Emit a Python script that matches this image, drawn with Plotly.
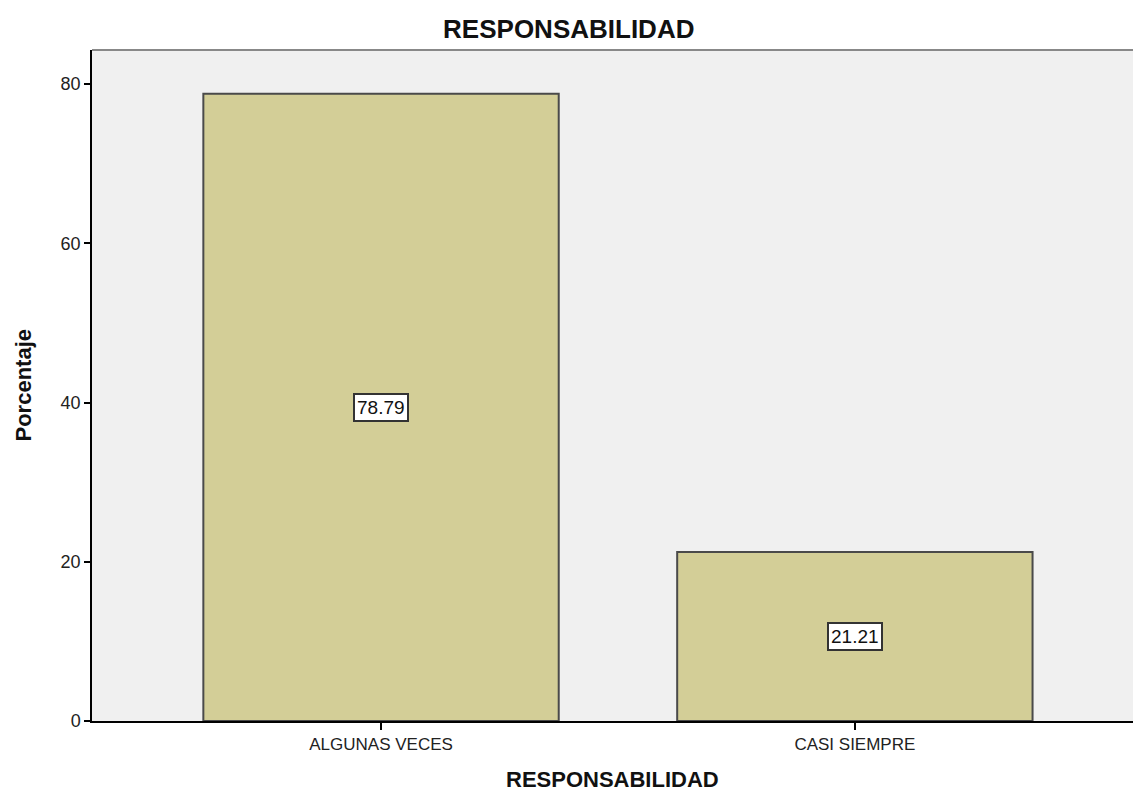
import plotly.graph_objects as go

categories = ["ALGUNAS VECES", "CASI SIEMPRE"]
values = [78.79, 21.21]
labels = ["78.79", "21.21"]
y_ticks = [0, 20, 40, 60, 80]

font_family = "Liberation Sans, Arial, sans-serif"

fig = go.Figure()
fig.add_trace(go.Bar(
    x=categories, y=values,
    marker=dict(color="#D3CE97", line=dict(color="#4a4a4a", width=2)),
    hoverinfo="skip",
))

annotations = []
for c, v, t in zip(categories, values, labels):
    annotations.append(dict(
        x=c, y=v / 2, xref="x", yref="y", text=t, showarrow=False,
        font=dict(family=font_family, size=19, color="#111"),
        bgcolor="white", bordercolor="#333", borderwidth=2, borderpad=2,
    ))

annotations.append(dict(
    x=0.5, y=0, xref="paper", yref="paper", text="<b>RESPONSABILIDAD</b>",
    showarrow=False, xanchor="center", yanchor="middle", yshift=-58,
    font=dict(family=font_family, size=22, color="#111"),
))
annotations.append(dict(
    x=0, y=0.5, xref="paper", yref="paper", text="<b>Porcentaje</b>",
    showarrow=False, xanchor="center", yanchor="middle", xshift=-69,
    textangle=-90,
    font=dict(family=font_family, size=22, color="#111"),
))

fig.update_layout(
    width=1133, height=792,
    margin=dict(l=92, r=0, t=50, b=71),
    paper_bgcolor="white", plot_bgcolor="#F0F0F0",
    showlegend=False,
    bargap=0.25,
    title=dict(text="<b>RESPONSABILIDAD</b>", x=0.502, xref="container", xanchor="center",
               y=1 - 29 / 792, yref="container", yanchor="middle",
               font=dict(family=font_family, size=26, color="#111")),
    annotations=annotations,
    shapes=[dict(type="line", xref="paper", yref="paper", x0=0, x1=1, y0=1, y1=1,
                 line=dict(color="#888", width=2))],
)
fig.update_xaxes(
    type="category", range=[-0.61, 1.587],
    showline=True, linecolor="black", linewidth=1.5,
    ticks="outside", ticklen=7, tickcolor="black", tickwidth=1.5,
    showgrid=False, zeroline=False,
    tickfont=dict(family=font_family, size=17, color="#222"),
)
fig.update_yaxes(
    range=[0, 84.27], tickvals=y_ticks,
    showline=True, linecolor="black", linewidth=1.5,
    ticks="outside", ticklen=6, tickcolor="black", tickwidth=1.5,
    showgrid=False, zeroline=False,
    tickfont=dict(family=font_family, size=18, color="#222"),
)

fig.write_html("out.html")
